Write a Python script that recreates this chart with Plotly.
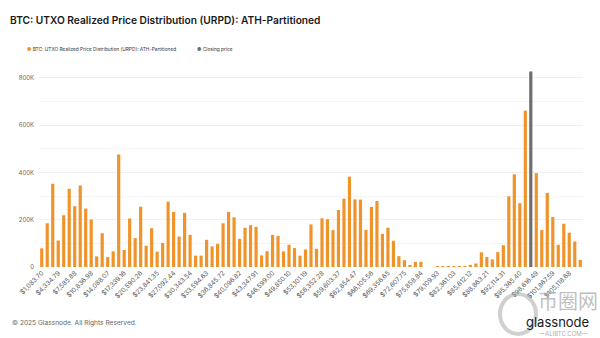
import plotly.graph_objects as go

# ---- data ----
BIN_WIDTH = 1083.6977  # URPD bucket width in USD
urpd_values = [
    79000, 185000, 352000, 112000, 219000, 331000, 257000, 345000, 247000, 201000,
    45000, 143000, 42000, 66000, 476000, 72000, 205000, 122000, 255000, 90000,
    164000, 65000, 102000, 276000, 233000, 129000, 229000, 136000, 48000, 48000,
    115000, 87000, 98000, 185000, 233000, 210000, 119000, 166000, 177000, 170000,
    49000, 67000, 136000, 132000, 66000, 94000, 80000, 48000, 74000, 180000,
    77000, 206000, 202000, 156000, 241000, 289000, 382000, 286000, 285000, 157000,
    254000, 279000, 140000, 166000, 111000, 46000, 29000, 8000, 21000, 22000,
    0, 0, 2000, 2000, 1000, 1000, 1000, 1000, 5000, 15000,
    62000, 42000, 32000, 63000, 92000, 299000, 392000, 270000, 661000, None,
    397000, 156000, 313000, 211000, 94000, 183000, 145000, 108000, 30000,
]
closing_bin_index = 89          # 0-based bucket holding the closing price
closing_value = 827000

tick_labels = [
    "$1,083.70", "$4,334.79", "$7,585.88", "$10,836.98", "$14,088.07", "$17,339.16",
    "$20,590.26", "$23,841.35", "$27,092.44", "$30,343.54", "$33,594.63", "$36,845.72",
    "$40,096.82", "$43,347.91", "$46,599.00", "$49,850.10", "$53,101.19", "$56,352.28",
    "$59,603.37", "$62,854.47", "$66,105.56", "$69,356.65", "$72,607.75", "$75,858.84",
    "$79,109.93", "$82,361.03", "$85,612.12", "$88,863.21", "$92,114.31", "$95,365.40",
    "$98,616.49", "$101,867.59", "$105,118.68",
]
y_tick_vals = [0, 200000, 400000, 600000, 800000]
y_tick_text = ["0", "200K", "400K", "600K", "800K"]

SERIES_NAME = "BTC: UTXO Realized Price Distribution (URPD): ATH-Partitioned"
CLOSE_NAME = "Closing price"

categories = [f"${(k + 1) * BIN_WIDTH:,.2f}" for k in range(len(urpd_values))]

ORANGE = "#EF942B"
GRAY = "#6E6E6E"
FONT = "Inter"

fig = go.Figure()
fig.add_trace(go.Bar(
    x=categories, y=urpd_values, marker=dict(color=ORANGE, line=dict(width=0)),
    showlegend=False, name=SERIES_NAME,
))
closing_y = [None] * len(categories)
closing_y[closing_bin_index] = closing_value
fig.add_trace(go.Bar(
    x=categories, y=closing_y, marker=dict(color=GRAY, line=dict(width=0)),
    showlegend=False, name=CLOSE_NAME,
))

fig.update_layout(
    width=600, height=338,
    margin=dict(l=39, r=17, t=66, b=71),
    paper_bgcolor="white", plot_bgcolor="white",
    barmode="overlay", bargap=0.42, showlegend=False,
    font=dict(family=FONT, color="#333"),
    title=dict(
        text="BTC: UTXO Realized Price Distribution (URPD): ATH-Partitioned",
        x=10 / 600, xref="container", xanchor="left", y=0.94, yref="container", yanchor="middle",
        font=dict(family=FONT, size=10.2, color="#1a1a1a", weight=600),
    ),
    xaxis=dict(
        type="category", categoryorder="array", categoryarray=categories,
        range=[-0.5, len(categories) - 0.5],
        tickmode="array",
        tickvals=[categories[i] for i in range(0, len(categories), 3)],
        ticktext=tick_labels,
        tickangle=-45, tickfont=dict(family=FONT, size=6.5, color="#555"),
        showgrid=False, showline=False, zeroline=False, ticks="",
    ),
    yaxis=dict(
        range=[0, 850000], tickmode="array", tickvals=y_tick_vals, ticktext=y_tick_text,
        tickfont=dict(family=FONT, size=6, color="#666"),
        showgrid=True, gridcolor="#F0F0F0", gridwidth=1,
        minor=dict(dtick=100000, tick0=0, showgrid=True, gridcolor="#F4F4F4"),
        zeroline=False, showline=False, ticks="", ticklabelstandoff=4,
    ),
)

# legend (dot markers + labels)
fig.add_annotation(
    text=f"<span style='color:{ORANGE}'>●</span> {SERIES_NAME}",
    xref="paper", yref="paper", x=-0.026, y=1.085, xanchor="left", yanchor="middle",
    showarrow=False, font=dict(family=FONT, size=4.8, color="#333"),
)
fig.add_annotation(
    text=f"<span style='color:{GRAY}'>●</span> {CLOSE_NAME}",
    xref="paper", yref="paper", x=0.287, y=1.085, xanchor="left", yanchor="middle",
    showarrow=False, font=dict(family=FONT, size=4.8, color="#333"),
)

fig.add_annotation(
    text="© 2025 Glassnode. All Rights Reserved.", xref="paper", yref="paper",
    x=-0.054, y=-0.279, xanchor="left", yanchor="middle", showarrow=False,
    font=dict(family=FONT, size=6.6, color="#666"),
)
# watermark / logo
fig.add_shape(
    type="circle", xref="paper", yref="paper",
    x0=(500 - 39) / 544, x1=(536 - 39) / 544, y0=(267 - 334) / 201, y1=(267 - 294) / 201,
    line=dict(color="rgba(170,170,170,0.55)", width=4),
)
fig.add_annotation(
    text="<span style='font-size:20px'>币圈网</span>", xref="paper", yref="paper",
    x=(600 - 39) / 544, y=(267 - 300) / 201,
    xanchor="right", yanchor="middle", showarrow=False,
    font=dict(family="Noto Sans CJK SC", size=20, color="rgba(170,170,170,0.75)"),
)
fig.add_annotation(
    text="glassnode", xref="paper", yref="paper", x=(591 - 39) / 544, y=(267 - 322) / 201,
    xanchor="right", yanchor="middle", showarrow=False,
    font=dict(family=FONT, size=13, color="#1a1a1a"),
)
fig.add_annotation(
    text="—ALIBTC.COM—", xref="paper", yref="paper", x=(590 - 39) / 544, y=(267 - 333) / 201,
    xanchor="right", yanchor="middle", showarrow=False,
    font=dict(family=FONT, size=6, color="rgba(150,150,150,0.8)"),
)

fig.write_html("out.html")
